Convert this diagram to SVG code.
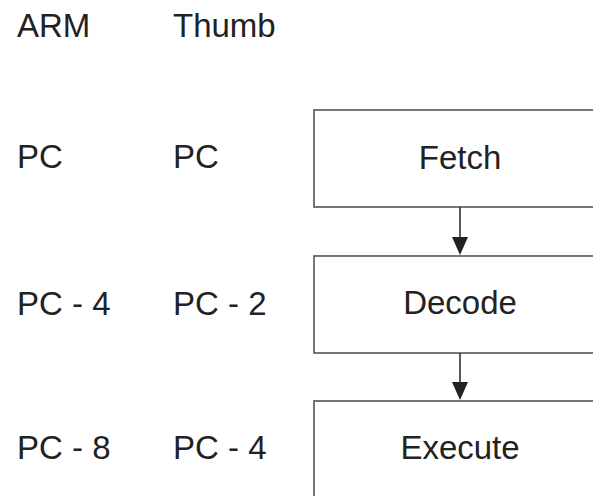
<svg xmlns="http://www.w3.org/2000/svg" width="593" height="496" viewBox="0 0 593 496">
<style>
text{font-family:"Liberation Sans",Arial,sans-serif;font-size:33px;fill:#222}
.box{fill:#fff;stroke:#555;stroke-width:1.6}
.c{text-anchor:middle}
.ln{stroke:#333;stroke-width:1.6;fill:none}
.ah{fill:#222}
</style>
<rect width="593" height="496" fill="#fff"/>
<g id="labels">
<text x="17" y="37">ARM</text>
<text x="173" y="37">Thumb</text>
<text x="17" y="168">PC</text>
<text x="173" y="168">PC</text>
<text x="17" y="315">PC - 4</text>
<text x="173" y="315">PC - 2</text>
<text x="17" y="459">PC - 8</text>
<text x="173" y="459">PC - 4</text>
</g>
<g id="fetch"><rect class="box" x="314" y="110" width="300" height="97"/><text class="c" x="460" y="169">Fetch</text></g>
<g id="decode"><rect class="box" x="314" y="256" width="300" height="97"/><text class="c" x="460" y="314">Decode</text></g>
<g id="execute"><rect class="box" x="314" y="401" width="300" height="120"/><text class="c" x="460" y="459">Execute</text></g>
<g id="connectors">
<line class="ln" x1="460" y1="207" x2="460" y2="240"/>
<polygon class="ah" points="452,237 468,237 460,255"/>
<line class="ln" x1="460" y1="353" x2="460" y2="385"/>
<polygon class="ah" points="452,382 468,382 460,400"/>
</g>
</svg>
